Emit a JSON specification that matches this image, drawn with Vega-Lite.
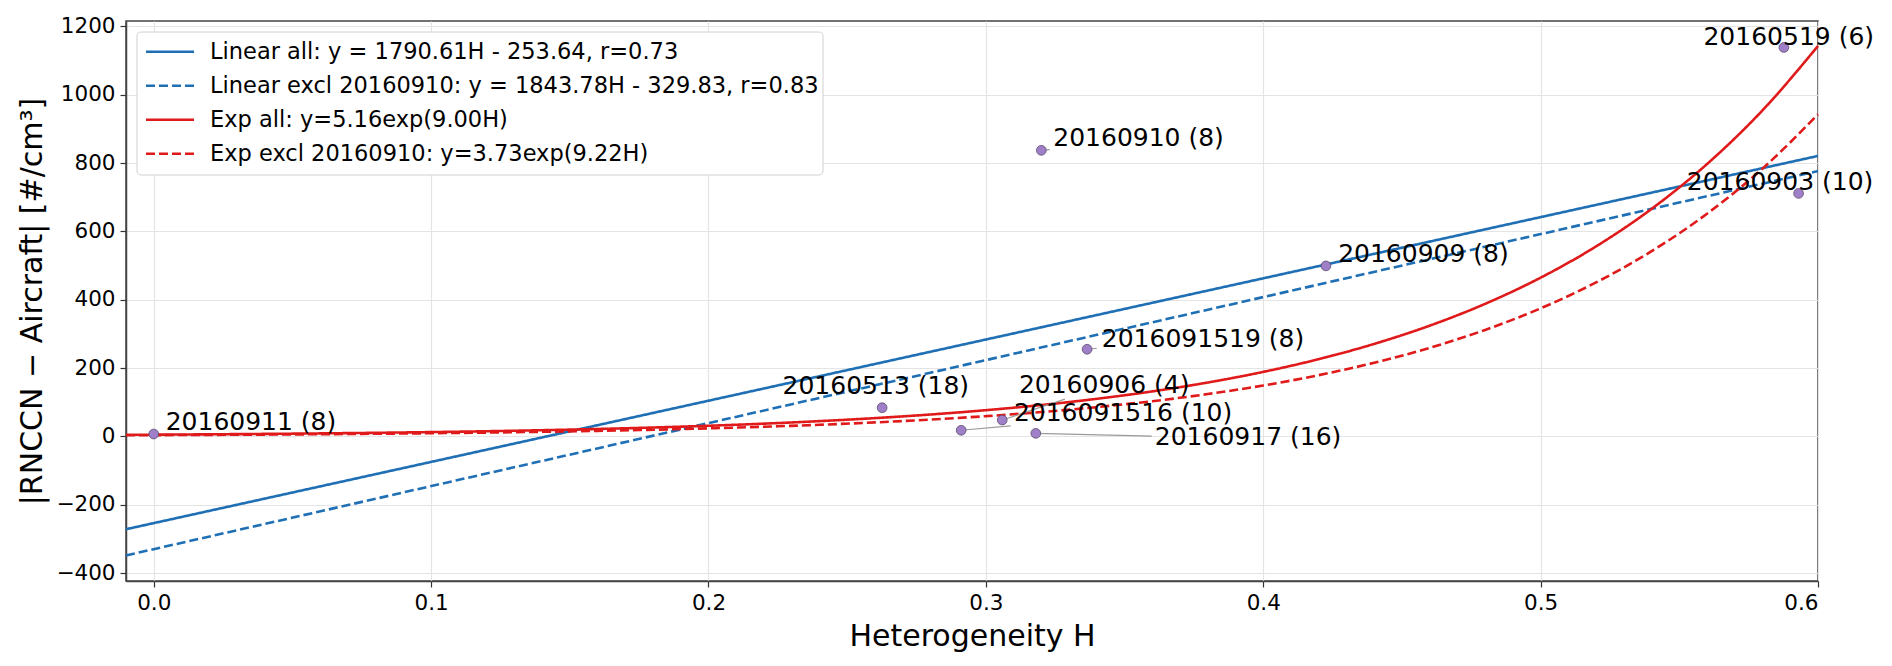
{
  "$schema": "https://vega.github.io/schema/vega-lite/v6.json",
  "autosize": {"type": "none"},
  "padding": {"left": 126, "top": 21, "right": 74, "bottom": 85},
  "width": 1692,
  "height": 560,
  "background": "white",
  "config": {
    "font": "DejaVu Sans",
    "view": {"stroke": "#444444", "strokeWidth": 1.5},
    "axis": {
      "labelFont": "DejaVu Sans",
      "labelFontSize": 21.5,
      "labelColor": "#000000",
      "titleFont": "DejaVu Sans",
      "titleFontSize": 30,
      "titleFontWeight": "normal",
      "titleColor": "#000000",
      "tickColor": "#333333",
      "tickSize": 6,
      "tickWidth": 1.2,
      "labelPadding": 5,
      "domainColor": "#444444",
      "domainWidth": 1.5,
      "gridColor": "#e4e4e4",
      "gridWidth": 1.2
    },
    "legend": {
      "labelFont": "DejaVu Sans",
      "labelFontSize": 22.5,
      "labelColor": "#000000",
      "labelLimit": 1000
    }
  },
  "datasets": {
    "fits": [
      {"series": "Linear all: y = 1790.61H - 253.64, r=0.73", "H": -0.01, "y": -271.55},
      {"series": "Linear all: y = 1790.61H - 253.64, r=0.73", "H": 0.6, "y": 820.73},
      {"series": "Linear excl 20160910: y = 1843.78H - 329.83, r=0.83", "H": -0.01, "y": -348.27},
      {"series": "Linear excl 20160910: y = 1843.78H - 329.83, r=0.83", "H": 0.6, "y": 776.44},
      {"series": "Exp all: y=5.16exp(9.00H)", "H": -0.01, "y": 4.72},
      {"series": "Exp all: y=5.16exp(9.00H)", "H": 0.0, "y": 5.16},
      {"series": "Exp all: y=5.16exp(9.00H)", "H": 0.02, "y": 6.18},
      {"series": "Exp all: y=5.16exp(9.00H)", "H": 0.04, "y": 7.40},
      {"series": "Exp all: y=5.16exp(9.00H)", "H": 0.06, "y": 8.85},
      {"series": "Exp all: y=5.16exp(9.00H)", "H": 0.08, "y": 10.60},
      {"series": "Exp all: y=5.16exp(9.00H)", "H": 0.10, "y": 12.69},
      {"series": "Exp all: y=5.16exp(9.00H)", "H": 0.12, "y": 15.19},
      {"series": "Exp all: y=5.16exp(9.00H)", "H": 0.14, "y": 18.19},
      {"series": "Exp all: y=5.16exp(9.00H)", "H": 0.16, "y": 21.78},
      {"series": "Exp all: y=5.16exp(9.00H)", "H": 0.18, "y": 26.07},
      {"series": "Exp all: y=5.16exp(9.00H)", "H": 0.20, "y": 31.22},
      {"series": "Exp all: y=5.16exp(9.00H)", "H": 0.22, "y": 37.37},
      {"series": "Exp all: y=5.16exp(9.00H)", "H": 0.24, "y": 44.74},
      {"series": "Exp all: y=5.16exp(9.00H)", "H": 0.26, "y": 53.57},
      {"series": "Exp all: y=5.16exp(9.00H)", "H": 0.28, "y": 64.13},
      {"series": "Exp all: y=5.16exp(9.00H)", "H": 0.30, "y": 76.78},
      {"series": "Exp all: y=5.16exp(9.00H)", "H": 0.32, "y": 91.92},
      {"series": "Exp all: y=5.16exp(9.00H)", "H": 0.34, "y": 110.05},
      {"series": "Exp all: y=5.16exp(9.00H)", "H": 0.36, "y": 131.76},
      {"series": "Exp all: y=5.16exp(9.00H)", "H": 0.38, "y": 157.74},
      {"series": "Exp all: y=5.16exp(9.00H)", "H": 0.40, "y": 188.85},
      {"series": "Exp all: y=5.16exp(9.00H)", "H": 0.42, "y": 226.09},
      {"series": "Exp all: y=5.16exp(9.00H)", "H": 0.44, "y": 270.68},
      {"series": "Exp all: y=5.16exp(9.00H)", "H": 0.46, "y": 324.06},
      {"series": "Exp all: y=5.16exp(9.00H)", "H": 0.48, "y": 387.97},
      {"series": "Exp all: y=5.16exp(9.00H)", "H": 0.50, "y": 464.49},
      {"series": "Exp all: y=5.16exp(9.00H)", "H": 0.52, "y": 556.09},
      {"series": "Exp all: y=5.16exp(9.00H)", "H": 0.54, "y": 665.76},
      {"series": "Exp all: y=5.16exp(9.00H)", "H": 0.56, "y": 797.05},
      {"series": "Exp all: y=5.16exp(9.00H)", "H": 0.58, "y": 954.24},
      {"series": "Exp all: y=5.16exp(9.00H)", "H": 0.60, "y": 1142.5},
      {"series": "Exp excl 20160910: y=3.73exp(9.22H)", "H": -0.01, "y": 3.40},
      {"series": "Exp excl 20160910: y=3.73exp(9.22H)", "H": 0.0, "y": 3.73},
      {"series": "Exp excl 20160910: y=3.73exp(9.22H)", "H": 0.02, "y": 4.49},
      {"series": "Exp excl 20160910: y=3.73exp(9.22H)", "H": 0.04, "y": 5.39},
      {"series": "Exp excl 20160910: y=3.73exp(9.22H)", "H": 0.06, "y": 6.49},
      {"series": "Exp excl 20160910: y=3.73exp(9.22H)", "H": 0.08, "y": 7.80},
      {"series": "Exp excl 20160910: y=3.73exp(9.22H)", "H": 0.10, "y": 9.38},
      {"series": "Exp excl 20160910: y=3.73exp(9.22H)", "H": 0.12, "y": 11.28},
      {"series": "Exp excl 20160910: y=3.73exp(9.22H)", "H": 0.14, "y": 13.56},
      {"series": "Exp excl 20160910: y=3.73exp(9.22H)", "H": 0.16, "y": 16.31},
      {"series": "Exp excl 20160910: y=3.73exp(9.22H)", "H": 0.18, "y": 19.61},
      {"series": "Exp excl 20160910: y=3.73exp(9.22H)", "H": 0.20, "y": 23.58},
      {"series": "Exp excl 20160910: y=3.73exp(9.22H)", "H": 0.22, "y": 28.35},
      {"series": "Exp excl 20160910: y=3.73exp(9.22H)", "H": 0.24, "y": 34.10},
      {"series": "Exp excl 20160910: y=3.73exp(9.22H)", "H": 0.26, "y": 41.00},
      {"series": "Exp excl 20160910: y=3.73exp(9.22H)", "H": 0.28, "y": 49.30},
      {"series": "Exp excl 20160910: y=3.73exp(9.22H)", "H": 0.30, "y": 59.28},
      {"series": "Exp excl 20160910: y=3.73exp(9.22H)", "H": 0.32, "y": 71.29},
      {"series": "Exp excl 20160910: y=3.73exp(9.22H)", "H": 0.34, "y": 85.72},
      {"series": "Exp excl 20160910: y=3.73exp(9.22H)", "H": 0.36, "y": 103.08},
      {"series": "Exp excl 20160910: y=3.73exp(9.22H)", "H": 0.38, "y": 123.96},
      {"series": "Exp excl 20160910: y=3.73exp(9.22H)", "H": 0.40, "y": 149.05},
      {"series": "Exp excl 20160910: y=3.73exp(9.22H)", "H": 0.42, "y": 179.24},
      {"series": "Exp excl 20160910: y=3.73exp(9.22H)", "H": 0.44, "y": 215.53},
      {"series": "Exp excl 20160910: y=3.73exp(9.22H)", "H": 0.46, "y": 259.17},
      {"series": "Exp excl 20160910: y=3.73exp(9.22H)", "H": 0.48, "y": 311.65},
      {"series": "Exp excl 20160910: y=3.73exp(9.22H)", "H": 0.50, "y": 374.77},
      {"series": "Exp excl 20160910: y=3.73exp(9.22H)", "H": 0.52, "y": 450.67},
      {"series": "Exp excl 20160910: y=3.73exp(9.22H)", "H": 0.54, "y": 541.93},
      {"series": "Exp excl 20160910: y=3.73exp(9.22H)", "H": 0.56, "y": 651.65},
      {"series": "Exp excl 20160910: y=3.73exp(9.22H)", "H": 0.58, "y": 783.60},
      {"series": "Exp excl 20160910: y=3.73exp(9.22H)", "H": 0.60, "y": 942.5}
    ],
    "flights": [
      {"label": "20160911 (8)", "H": 0.0, "y": 7, "lx": 0.0043, "ly": 41},
      {"label": "20160513 (18)", "H": 0.2626, "y": 84, "lx": 0.2267, "ly": 148},
      {"label": "2016091516 (10)", "H": 0.2911, "y": 18, "lx": 0.3101, "ly": 68},
      {"label": "20160906 (4)", "H": 0.3059, "y": 48, "lx": 0.3119, "ly": 150},
      {"label": "20160917 (16)", "H": 0.318, "y": 9, "lx": 0.3609, "ly": -1},
      {"label": "20160910 (8)", "H": 0.32, "y": 837, "lx": 0.3243, "ly": 872},
      {"label": "2016091519 (8)", "H": 0.3365, "y": 255, "lx": 0.3418, "ly": 285},
      {"label": "20160909 (8)", "H": 0.4226, "y": 499, "lx": 0.427, "ly": 535},
      {"label": "20160519 (6)", "H": 0.5877, "y": 1138, "lx": 0.5587, "ly": 1169},
      {"label": "20160903 (10)", "H": 0.593, "y": 711, "lx": 0.5527, "ly": 745}
    ],
    "leaders": [
      {"H": 0.2911, "y": 18, "H2": 0.3089, "y2": 31},
      {"H": 0.3059, "y": 48, "H2": 0.3285, "y2": 109},
      {"H": 0.318, "y": 9, "H2": 0.3598, "y2": 1},
      {"H": 0.3365, "y": 255, "H2": 0.34, "y2": 258},
      {"H": 0.32, "y": 837, "H2": 0.323, "y2": 839}
    ]
  },
  "encoding": {
    "x": {
      "field": "H",
      "type": "quantitative",
      "title": "Heterogeneity H",
      "scale": {"domain": [-0.01, 0.6], "nice": false, "zero": false},
      "axis": {"values": [0, 0.1, 0.2, 0.3, 0.4, 0.5, 0.6], "format": ".1f", "titlePadding": 8}
    },
    "y": {
      "field": "y",
      "type": "quantitative",
      "title": "|RNCCN − Aircraft| [#/cm³]",
      "scale": {"domain": [-423, 1215.5], "nice": false, "zero": false},
      "axis": {"values": [-400, -200, 0, 200, 400, 600, 800, 1000, 1200], "format": "d", "titlePadding": 8}
    }
  },
  "layer": [
    {
      "data": {"values": [{}]},
      "mark": {"type": "rule", "color": "#444444", "strokeWidth": 1, "strokeDash": [3, 2]},
      "encoding": {"y": {"datum": 0}, "x": null}
    },
    {
      "data": {"name": "fits"},
      "mark": {"type": "line", "strokeWidth": 2.6, "interpolate": "monotone"},
      "encoding": {
        "color": {
          "field": "series",
          "type": "nominal",
          "scale": {
            "domain": [
              "Linear all: y = 1790.61H - 253.64, r=0.73",
              "Linear excl 20160910: y = 1843.78H - 329.83, r=0.83",
              "Exp all: y=5.16exp(9.00H)",
              "Exp excl 20160910: y=3.73exp(9.22H)"
            ],
            "range": ["#1f6fb5", "#1f6fb5", "#e01a1a", "#e01a1a"]
          },
          "legend": {
            "title": null,
            "orient": "none",
            "legendX": 10.5,
            "legendY": 10.5,
            "symbolType": "stroke",
            "symbolSize": 2304,
            "symbolStrokeWidth": 2.5,
            "symbolOffset": 4.5,
            "labelOffset": 14.5,
            "clipHeight": 33.3,
            "rowPadding": 0,
            "padding": 3.5,
            "strokeColor": "#d0d0d0",
            "fillColor": "white",
            "cornerRadius": 4
          }
        },
        "strokeDash": {
          "field": "series",
          "type": "nominal",
          "scale": {
            "domain": [
              "Linear all: y = 1790.61H - 253.64, r=0.73",
              "Linear excl 20160910: y = 1843.78H - 329.83, r=0.83",
              "Exp all: y=5.16exp(9.00H)",
              "Exp excl 20160910: y=3.73exp(9.22H)"
            ],
            "range": [[1, 0], [9, 4], [1, 0], [9, 4]]
          },
          "legend": null
        }
      }
    },
    {
      "data": {"name": "leaders"},
      "mark": {"type": "rule", "color": "#9a9a9a", "strokeWidth": 1.2},
      "encoding": {
        "x2": {"field": "H2"},
        "y2": {"field": "y2"}
      }
    },
    {
      "data": {"name": "flights"},
      "mark": {"type": "point", "shape": "circle", "filled": true, "size": 95, "fill": "#a07fc9", "stroke": "#5a4a6c", "strokeWidth": 0.8, "opacity": 1}
    },
    {
      "data": {"name": "flights"},
      "mark": {"type": "text", "align": "left", "baseline": "middle", "fontSize": 25, "font": "DejaVu Sans", "color": "#000000"},
      "encoding": {
        "x": {"field": "lx", "type": "quantitative"},
        "y": {"field": "ly", "type": "quantitative"},
        "text": {"field": "label"}
      }
    }
  ]
}
